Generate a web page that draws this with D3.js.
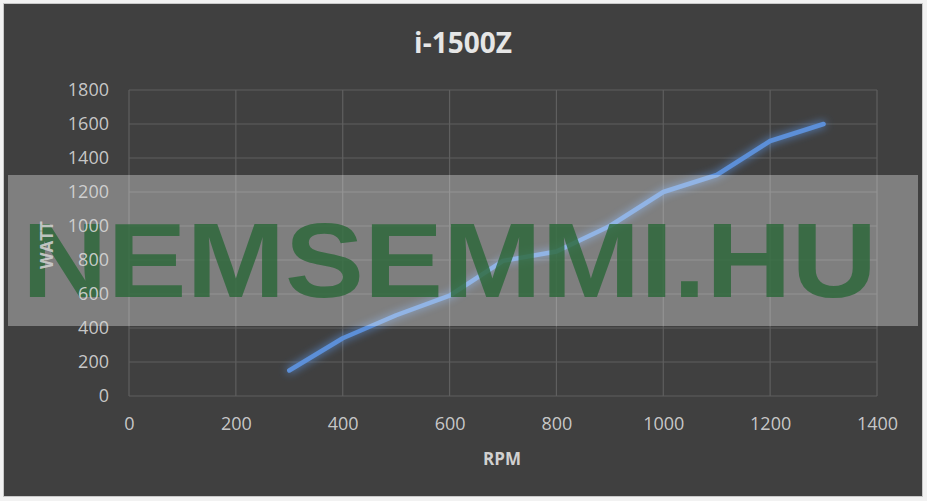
<!DOCTYPE html>
<html><head><meta charset="utf-8">
<script src="https://cdn.jsdelivr.net/npm/d3@7"></script>
<style>html,body{margin:0;padding:0;background:#f2f2f2;}svg{display:block;}</style>
</head><body>
<script>
const title = "i-1500Z";
const xLabel = "RPM";
const yLabel = "WATT";
const rpm = [300, 400, 500, 600, 700, 800, 900, 1000, 1100, 1200, 1300];
const watt = [150, 340, 475, 590, 795, 850, 1000, 1200, 1300, 1500, 1600];
const xTicks = [0, 200, 400, 600, 800, 1000, 1200, 1400];
const yTicks = [0, 200, 400, 600, 800, 1000, 1200, 1400, 1600, 1800];
const watermark = "NEMSEMMI.HU";

const W = 927, H = 501;
const svg = d3.select("body").append("svg").attr("width", W).attr("height", H);
const defs = svg.append("defs");
const f = defs.append("filter").attr("id","glow").attr("x","-20%").attr("y","-20%").attr("width","140%").attr("height","140%");
f.append("feGaussianBlur").attr("in","SourceGraphic").attr("stdDeviation",4).attr("result","b");
const m = f.append("feMerge");
m.append("feMergeNode").attr("in","b");
m.append("feMergeNode").attr("in","SourceGraphic");

svg.append("rect").attr("x",3.5).attr("y",3.5).attr("width",919).attr("height",493)
  .attr("fill","#404040").attr("stroke","#c8c8c8").attr("stroke-width",1);

const x = d3.scaleLinear().domain([0,1400]).range([129,877]);
const y = d3.scaleLinear().domain([0,1800]).range([396,90]);

const font = "'Open Sans', Calibri, Lato, sans-serif";

// grid
svg.append("g").selectAll("line").data(yTicks).join("line")
  .attr("x1",x(0)).attr("x2",x(1400)).attr("y1",d=>y(d)).attr("y2",d=>y(d))
  .attr("stroke","#5f5f5f").attr("stroke-width",1.2);
svg.append("g").selectAll("line").data(xTicks).join("line")
  .attr("y1",y(0)).attr("y2",y(1800)).attr("x1",d=>x(d)).attr("x2",d=>x(d))
  .attr("stroke","#5f5f5f").attr("stroke-width",1.2);

// line
const line = d3.line().x((d,i)=>x(rpm[i])).y(d=>y(d));
svg.append("path").datum(watt).attr("d",line).attr("fill","none")
  .attr("stroke","#5b8fd8").attr("stroke-width",4.5).attr("stroke-linecap","round")
  .attr("stroke-linejoin","round").attr("filter","url(#glow)");

// watermark
svg.append("rect").attr("x",8).attr("y",175).attr("width",910).attr("height",151)
  .attr("fill","#ffffff").attr("fill-opacity",0.33);
svg.append("text").attr("x",22).attr("y",297).attr("textLength",855).attr("lengthAdjust","spacingAndGlyphs")
  .attr("fill","#296637").attr("fill-opacity",0.8)
  .style("font-family","'Liberation Sans', Arial, sans-serif").style("font-size","106px").style("font-weight","bold")
  .text(watermark);

// axes labels via d3 axes
const xa = svg.append("g").attr("transform",`translate(0,${y(0)})`)
  .call(d3.axisBottom(x).tickValues(xTicks).tickSize(0).tickPadding(21).tickFormat(d3.format("d")));
const ya = svg.append("g").attr("transform",`translate(${x(0)},0)`)
  .call(d3.axisLeft(y).tickValues(yTicks).tickSize(0).tickPadding(20).tickFormat(d3.format("d")));
[xa,ya].forEach(a=>{
  a.select(".domain").remove();
  a.selectAll("text").attr("fill","#d9d9d9").attr("fill-opacity",0.9).style("font-family",font).style("font-size","18px");
});

// title and axis titles
svg.append("text").attr("x",463).attr("y",53).attr("text-anchor","middle")
  .attr("fill","#e6e6e6").style("font-family",font).style("font-size","28px").style("font-weight","bold").text(title);
svg.append("text").attr("x",502).attr("y",465).attr("text-anchor","middle")
  .attr("fill","#d0d0d0").style("font-family",font).style("font-size","17px").style("font-weight","bold").text(xLabel);
svg.append("text").attr("transform","translate(53,245) rotate(-90)").attr("text-anchor","middle")
  .attr("fill","#d0d0d0").attr("fill-opacity",0.9).style("font-family",font).style("font-size","17px").style("font-weight","bold").text(yLabel);
</script>
</body></html>
